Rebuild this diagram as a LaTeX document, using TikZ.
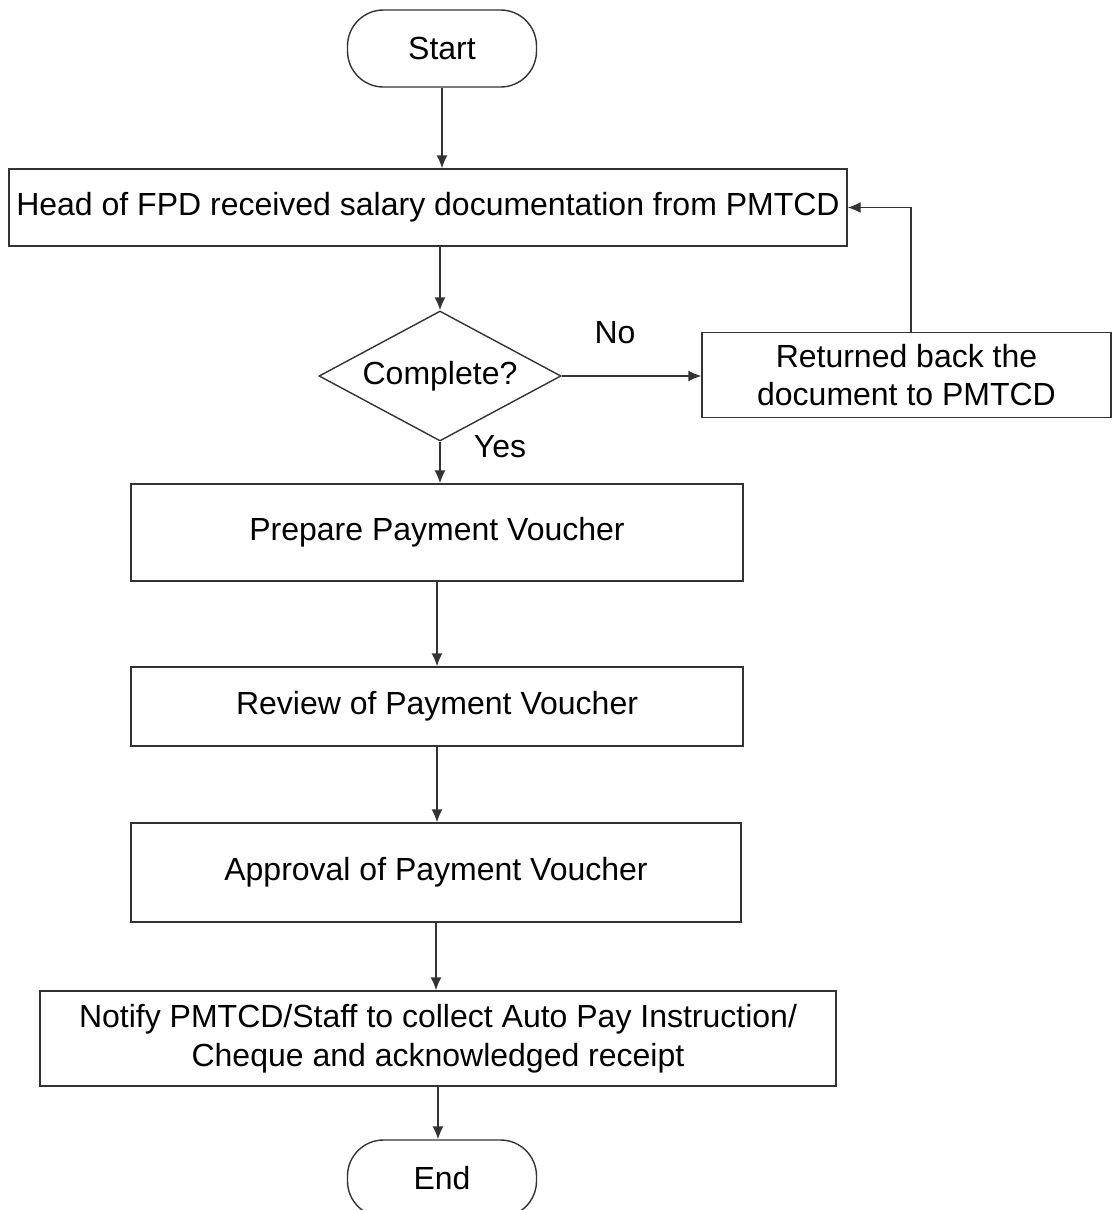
\documentclass[tikz,border=0pt]{standalone}
\usepackage{fontspec}
\setmainfont{Liberation Sans}
\usetikzlibrary{shapes.geometric,arrows.meta}
\begin{document}
\begin{tikzpicture}[x=1pt,y=-1pt,
  every node/.style={font=\fontsize{32}{38.5}\selectfont, inner sep=0pt, text=black},
  box/.style={draw=black!80, line width=1.4pt, rectangle, align=center},
  term/.style={draw=black!80, line width=1.4pt, rectangle, rounded corners=36pt, minimum width=189pt, minimum height=77pt},
  decision/.style={draw=black!80, line width=1.4pt, diamond, shape aspect=1.86, minimum width=242pt, minimum height=130pt},
  flow/.style={draw=black!80, line width=1.4pt, -{Latex[length=13pt,width=11pt]}},
  lbl/.style={font=\fontsize{32}{38.5}\selectfont}
]
\useasboundingbox (0,0) rectangle (1113,1210);
\fill[white] (0,0) rectangle (1113,1210);

\node[term] (start) at (442,48.5) {Start};
\node[box, minimum width=838pt, minimum height=77pt] (head) at (428,207.5) {Head of FPD received salary documentation from PMTCD};
\node[decision] (dec) at (440,376) {Complete?};
\node[box, minimum width=409pt, minimum height=85pt] (ret) at (906.5,375) {Returned back the\\document to PMTCD};
\node[box, minimum width=612pt, minimum height=97pt] (prep) at (437,532.5) {Prepare Payment Voucher};
\node[box, minimum width=612pt, minimum height=79pt] (rev) at (437,706.5) {Review of Payment Voucher};
\node[box, minimum width=610pt, minimum height=99pt] (appr) at (436,872.5) {Approval of Payment Voucher};
\node[box, minimum width=796pt, minimum height=95pt] (notify) at (438,1038.5) {Notify PMTCD/Staff to collect Auto Pay Instruction/\\Cheque and acknowledged receipt};
\node[term] (end) at (442,1178.5) {End};

\node[lbl] (no) at (615,333) {No};
\node[lbl] (yes) at (500,447) {Yes};
\coordinate (fb) at (911,0);

\draw[flow] (start.south) -- (start.south |- head.north);
\draw[flow] (dec.north |- head.south) -- (dec.north);
\draw[flow] (dec.east) -- (ret.west |- dec.east);
\draw[flow] (fb |- ret.north) |- (head.east);
\draw[flow] (dec.south) -- (dec.south |- prep.north);
\draw[flow] (prep.south) -- (prep.south |- rev.north);
\draw[flow] (rev.south) -- (rev.south |- appr.north);
\draw[flow] (appr.south) -- (appr.south |- notify.north);
\draw[flow] (notify.south) -- (notify.south |- end.north);
\end{tikzpicture}
\end{document}
